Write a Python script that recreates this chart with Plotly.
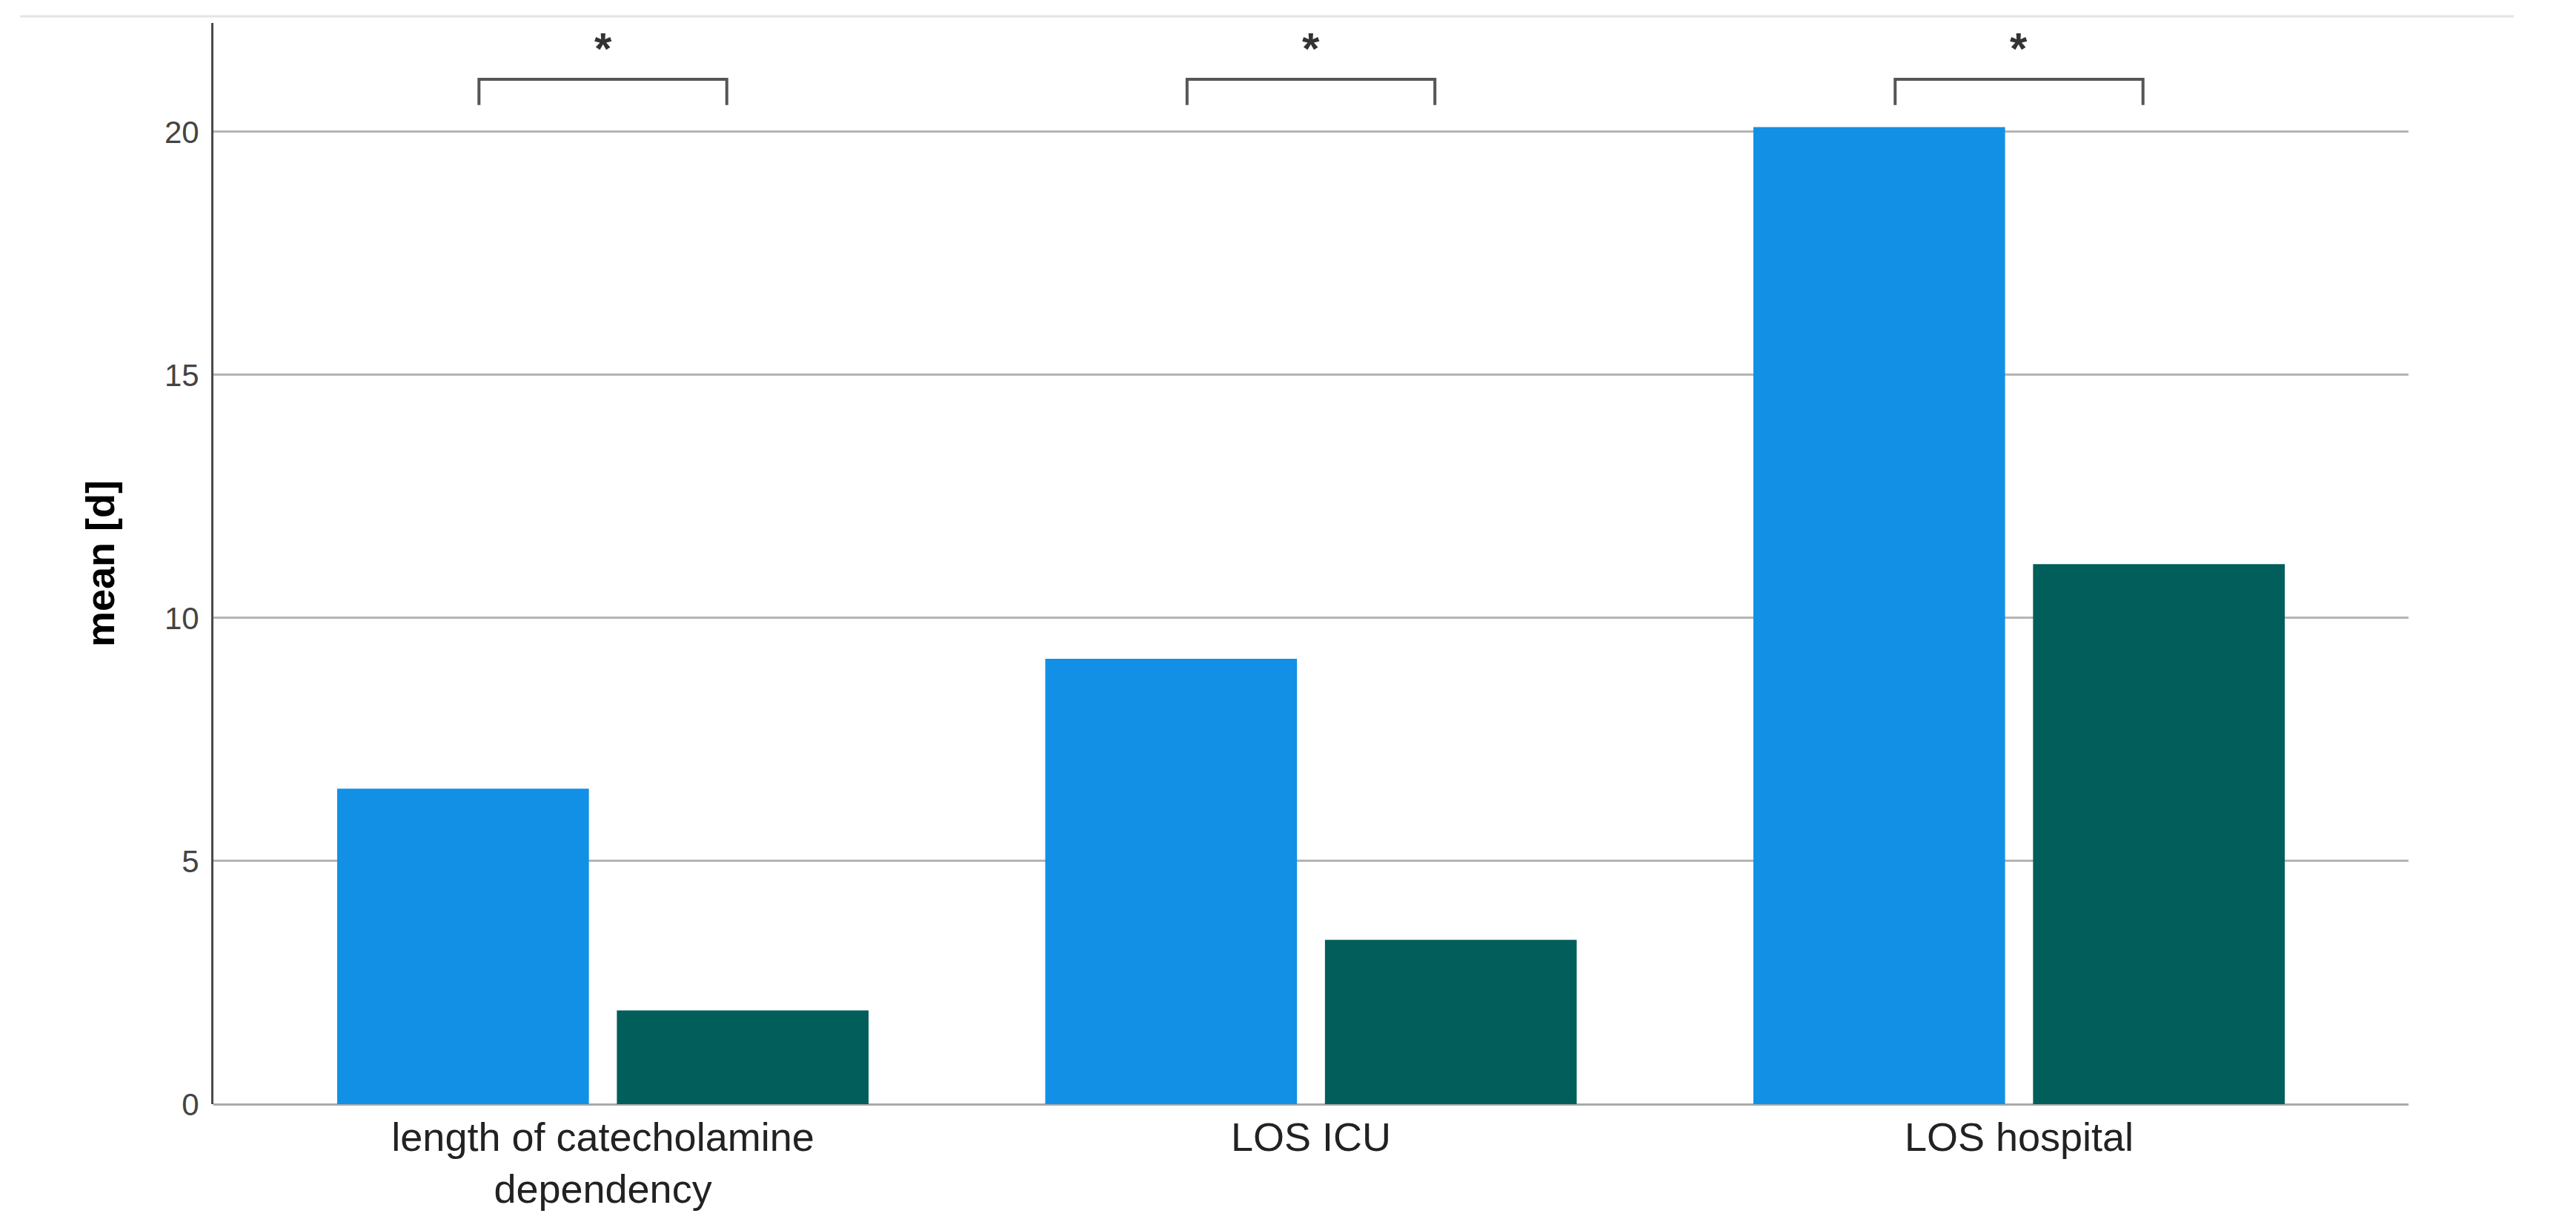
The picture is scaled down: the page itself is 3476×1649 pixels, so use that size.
import plotly.graph_objects as go

categories = ["length of catecholamine<br>dependency", "LOS ICU", "LOS hospital"]
group_a = [6.49, 9.16, 20.1]
group_b = [1.93, 3.38, 11.11]
y_ticks = [0, 5, 10, 15, 20]
significance = ["*", "*", "*"]

BLUE = "#1290e6"
TEAL = "#015e5a"
FONT = "Liberation Sans, Arial, sans-serif"

fig = go.Figure()
fig.add_trace(go.Bar(x=list(range(len(categories))), y=group_a, marker=dict(color=BLUE, line=dict(width=0)), showlegend=False))
fig.add_trace(go.Bar(x=list(range(len(categories))), y=group_b, marker=dict(color=TEAL, line=dict(width=0)), showlegend=False))

# significance brackets and stars
half = 0.175
y_low, y_high = 20.55, 21.08
for i, s in enumerate(significance):
    fig.add_shape(type="path",
                  path=f"M {i-half},{y_low} L {i-half},{y_high} L {i+half},{y_high} L {i+half},{y_low}",
                  xref="x", yref="y", line=dict(color="#555555", width=4))
    fig.add_annotation(x=i, y=21.72, xref="x", yref="y", text=f"<b>{s}</b>", showarrow=False,
                       font=dict(family=FONT, size=60, color="#333333"), yanchor="middle")

# light border line at the very top
fig.add_shape(type="line", xref="paper", yref="paper", x0=-0.088, x1=1.048, y0=1.0062, y1=1.0062,
              line=dict(color="#e4e4e4", width=3))

# page body has an 8px margin, so the figure is 16px smaller than the window
fig.update_layout(
    width=3460, height=1633,
    barmode="group", bargap=0.21, bargroupgap=0.1,
    plot_bgcolor="white", paper_bgcolor="white",
    margin=dict(l=280, r=218, t=23, b=151),
    font=dict(family=FONT),
)
fig.update_xaxes(
    range=[-0.55, 2.55], tickmode="array", tickvals=list(range(len(categories))), ticktext=categories,
    showgrid=False, showline=False, zeroline=False, ticks="", automargin=False,
    tickfont=dict(family=FONT, size=54, color="#222222"), ticklabelstandoff=8,
)
fig.update_yaxes(
    range=[0, 22.24], tickmode="array", tickvals=y_ticks, ticktext=[str(v) for v in y_ticks],
    showgrid=True, gridcolor="#b4b4b4", gridwidth=3, automargin=False,
    zeroline=True, zerolinecolor="#aaaaaa", zerolinewidth=3,
    showline=True, linecolor="#4a4a4a", linewidth=3, ticks="",
    tickfont=dict(family=FONT, size=42, color="#444444"), ticklabelstandoff=8,
    title=dict(text="<b>mean [d]</b>", font=dict(family=FONT, size=54, color="#000000"), standoff=50),
)

fig.write_html("out.html")
